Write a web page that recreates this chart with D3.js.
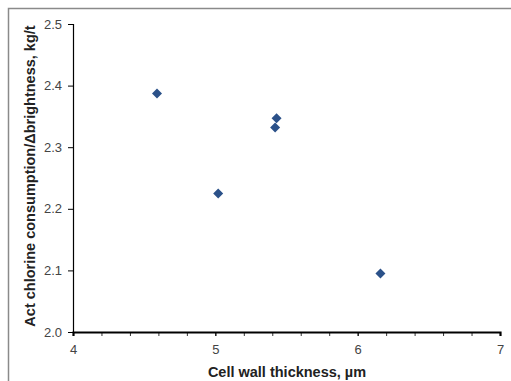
<!DOCTYPE html>
<html>
<head>
<meta charset="utf-8">
<script src="https://cdn.jsdelivr.net/npm/d3@7"></script>
<style>
	html, body { margin: 0; padding: 0; background: #fff; }
	svg { display: block; font-family: "Liberation Sans", Arial, sans-serif; }
</style>
</head>
<body>
<div id="chart"></div>
<script>
// データ
const wallThickness = [4.59, 5.43, 5.42, 5.02, 6.16];
const chlorinePerBrightness = [2.387, 2.347, 2.332, 2.225, 2.095];
const xTicks = [4, 5, 6, 7];
const yTicks = [2.0, 2.1, 2.2, 2.3, 2.4, 2.5];

const width = 511, height = 381;
const margin = { left: 73, right: 11, top: 24, bottom: 49 };

const svg = d3.select('#chart').append('svg')
	.attr('width', width)
	.attr('height', height);

// 外枠
svg.append('rect')
	.attr('x', 8.5).attr('y', 8.5)
	.attr('width', width).attr('height', height)
	.style('fill', 'none')
	.style('stroke', '#8a8a8a')
	.style('stroke-width', 1.5);

const x = d3.scaleLinear().domain([4, 7]).range([margin.left, width - margin.right]);
const y = d3.scaleLinear().domain([2.0, 2.5]).range([height - margin.bottom, margin.top]);

// y軸
const yAxis = svg.append('g')
	.attr('transform', `translate(${margin.left},0)`)
	.call(d3.axisLeft(y).tickValues(yTicks).tickFormat(d3.format('.1f')).tickSize(5).tickPadding(6));
yAxis.select('.domain').attr('stroke', '#000').attr('stroke-width', 1.2);
yAxis.selectAll('.tick line').attr('stroke', '#000');
yAxis.selectAll('text').style('font-size', '13px').style('fill', '#444');

// x軸（副目盛 0.2 刻み）
const minorTicks = d3.range(4, 7.001, 0.2).map(v => +v.toFixed(1));
const xMinor = svg.append('g')
	.attr('transform', `translate(0,${y(2.0)})`)
	.call(d3.axisBottom(x).tickValues(minorTicks).tickFormat('').tickSize(4));
xMinor.select('.domain').remove();
xMinor.selectAll('.tick line').attr('stroke', '#333');

const xAxis = svg.append('g')
	.attr('transform', `translate(0,${y(2.0)})`)
	.call(d3.axisBottom(x).tickValues(xTicks).tickFormat(d3.format('d')).tickSize(4).tickPadding(9));
xAxis.select('.domain').attr('stroke', '#000').attr('stroke-width', 2.2);
xAxis.selectAll('.tick line').attr('stroke', '#000');
xAxis.selectAll('text').style('font-size', '13px').style('fill', '#444');

// 軸タイトル
svg.append('text')
	.attr('x', 287)
	.attr('y', 377)
	.attr('text-anchor', 'middle')
	.style('font-size', '14.5px')
	.style('font-weight', 'bold')
	.style('fill', '#222')
	.text('Cell wall thickness, µm');

svg.append('text')
	.attr('transform', 'translate(35,176) rotate(-90)')
	.attr('text-anchor', 'middle')
	.style('font-size', '14.5px')
	.style('font-weight', 'bold')
	.style('fill', '#222')
	.text('Act chlorine consumption/Δbrightness, kg/t');

// 点（ひし形）
const diamond = d3.symbol().type(d3.symbolSquare).size(50);
svg.append('g')
	.selectAll('path')
	.data(wallThickness.map((v, i) => [v, chlorinePerBrightness[i]]))
	.enter()
	.append('path')
	.attr('d', diamond)
	.attr('transform', d => `translate(${x(d[0])},${y(d[1])}) rotate(45)`)
	.style('fill', '#2b5189');
</script>
</body>
</html>
